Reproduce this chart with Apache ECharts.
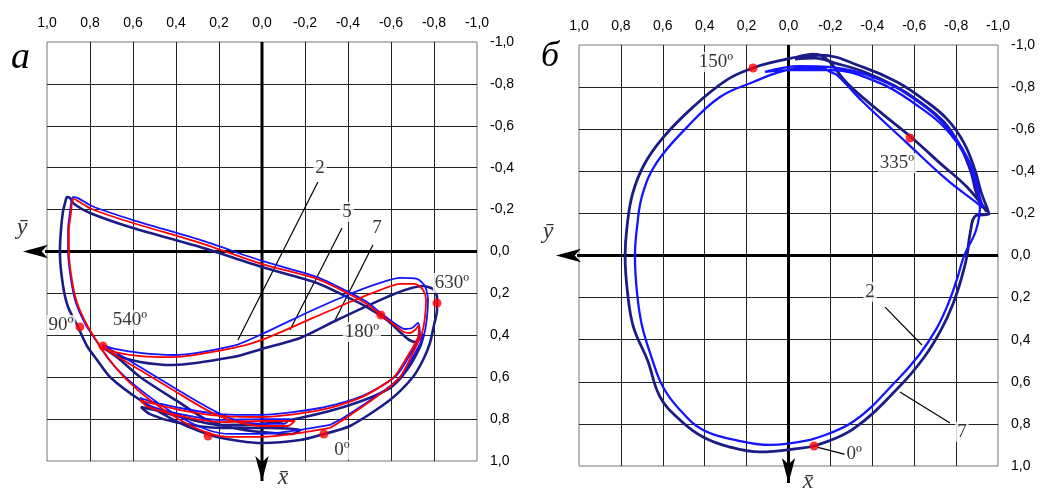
<!DOCTYPE html>
<html><head><meta charset="utf-8">
<script src="https://cdn.jsdelivr.net/npm/echarts@6/dist/echarts.min.js"></script>
<style>html,body{margin:0;padding:0;background:#fff}#c{width:1052px;height:494px}</style>
</head><body><div id="c"></div>
<script>
// ---------- DATA (relative eccentricity coordinates: [ȳ, x̄]) ----------
const axisMin = -1, axisMax = 1, axisStep = 0.2;

// Panel "а": curve 7 (navy)
const curveA7 = [[-0.288,0.871],[-0.177,0.900],[0,0.914],[0.209,0.885],[0.381,0.819],[0.567,0.709],[0.707,0.599],[0.767,0.518],[0.814,0.451],[0.856,0.360],[0.902,0.265],[0.926,0.160],[0.940,0.002],[0.935,-0.103],[0.926,-0.189],[0.916,-0.232],[0.907,-0.260],[0.893,-0.255],[0.874,-0.227],[0.800,-0.184],[0.600,-0.112],[0.288,-0.021],[0,0.074],[-0.256,0.150],[-0.395,0.217],[-0.488,0.265],[-0.581,0.327],[-0.642,0.384],[-0.679,0.418],[-0.712,0.432],[-0.735,0.418],[-0.753,0.394],[-0.735,0.456],[-0.674,0.566],[-0.595,0.652],[-0.409,0.733],[-0.177,0.795],[0,0.823],[0.195,0.828],[0.358,0.795],[0.498,0.757],[0.563,0.742],[0.521,0.776],[0.405,0.814],[0.195,0.842],[-0.037,0.842],[-0.177,0.852],[-0.140,0.871],[0,0.862],[0.135,0.842],[0.256,0.804],[0.381,0.723],[0.567,0.599],[0.670,0.508],[0.744,0.456],[0.684,0.494],[0.567,0.527],[0.414,0.542],[0.135,0.504],[0,0.465],[-0.177,0.413],[-0.349,0.327],[-0.549,0.232],[-0.665,0.184],[-0.749,0.165],[-0.795,0.179],[-0.814,0.217],[-0.814,0.279],[-0.800,0.351],[-0.781,0.437],[-0.749,0.518],[-0.702,0.599],[-0.595,0.709],[-0.409,0.833],[-0.288,0.871]];
// Panel "а": curve 5 (red)
const curveA5 = [[-0.316,0.842],[-0.177,0.866],[0,0.885],[0.149,0.885],[0.251,0.866],[0.381,0.804],[0.521,0.709],[0.637,0.604],[0.716,0.508],[0.763,0.437],[0.814,0.351],[0.860,0.246],[0.884,0.136],[0.898,0.002],[0.898,-0.103],[0.888,-0.189],[0.884,-0.232],[0.874,-0.251],[0.856,-0.241],[0.791,-0.203],[0.600,-0.136],[0.288,-0.041],[0,0.060],[-0.256,0.131],[-0.395,0.198],[-0.488,0.251],[-0.553,0.303],[-0.628,0.360],[-0.660,0.384],[-0.688,0.389],[-0.716,0.370],[-0.730,0.351],[-0.726,0.408],[-0.674,0.504],[-0.609,0.604],[-0.456,0.699],[-0.270,0.757],[0,0.790],[0.195,0.785],[0.381,0.757],[0.521,0.723],[0.567,0.709],[0.530,0.742],[0.381,0.785],[0.195,0.814],[-0.014,0.809],[-0.153,0.809],[-0.121,0.833],[0,0.833],[0.135,0.809],[0.256,0.757],[0.414,0.661],[0.567,0.566],[0.684,0.494],[0.740,0.456],[0.684,0.480],[0.567,0.499],[0.414,0.504],[0.135,0.461],[0,0.422],[-0.237,0.317],[-0.409,0.241],[-0.549,0.184],[-0.642,0.155],[-0.712,0.155],[-0.749,0.184],[-0.763,0.232],[-0.758,0.313],[-0.744,0.389],[-0.702,0.484],[-0.642,0.599],[-0.563,0.671],[-0.377,0.804],[-0.316,0.842]];
// Panel "а": curve 2 (blue)
const curveA2 = [[-0.316,0.828],[-0.177,0.852],[0,0.871],[0.149,0.871],[0.251,0.852],[0.381,0.790],[0.521,0.695],[0.642,0.594],[0.721,0.504],[0.767,0.432],[0.819,0.351],[0.865,0.246],[0.888,0.136],[0.902,0.002],[0.902,-0.103],[0.893,-0.189],[0.888,-0.232],[0.879,-0.260],[0.856,-0.255],[0.791,-0.217],[0.600,-0.150],[0.288,-0.055],[0,0.045],[-0.256,0.122],[-0.395,0.189],[-0.488,0.241],[-0.553,0.294],[-0.628,0.351],[-0.665,0.370],[-0.698,0.365],[-0.726,0.341],[-0.735,0.399],[-0.688,0.494],[-0.623,0.594],[-0.465,0.690],[-0.270,0.747],[0,0.780],[0.195,0.776],[0.381,0.747],[0.521,0.714],[0.567,0.699],[0.530,0.733],[0.381,0.776],[0.195,0.804],[-0.014,0.800],[-0.130,0.800],[-0.102,0.823],[0,0.823],[0.135,0.800],[0.256,0.742],[0.414,0.647],[0.567,0.551],[0.684,0.480],[0.744,0.446],[0.684,0.465],[0.567,0.484],[0.414,0.494],[0.135,0.451],[0,0.394],[-0.237,0.279],[-0.409,0.203],[-0.549,0.150],[-0.642,0.126],[-0.721,0.131],[-0.758,0.165],[-0.772,0.232],[-0.767,0.317],[-0.753,0.399],[-0.712,0.484],[-0.651,0.590],[-0.572,0.661],[-0.377,0.795],[-0.316,0.828]];

// Panel "б": curve 7 (navy)
const curveB7 = [[-0.122,0.905],[-0.069,0.914],[0.136,0.933],[0.279,0.910],[0.408,0.862],[0.518,0.781],[0.613,0.672],[0.672,0.500],[0.740,0.340],[0.768,0.178],[0.780,0.002],[0.771,-0.135],[0.745,-0.290],[0.690,-0.430],[0.599,-0.560],[0.456,-0.705],[0.294,-0.834],[0.169,-0.891],[0.074,-0.919],[-0.041,-0.943],[-0.117,-0.957],[-0.160,-0.948],[-0.198,-0.919],[-0.279,-0.819],[-0.437,-0.682],[-0.590,-0.558],[-0.723,-0.439],[-0.852,-0.325],[-0.947,-0.207],[-0.900,-0.287],[-0.871,-0.397],[-0.819,-0.520],[-0.742,-0.634],[-0.628,-0.729],[-0.508,-0.805],[-0.351,-0.876],[-0.222,-0.914],[-0.126,-0.938],[-0.031,-0.933],[-0.150,-0.952],[-0.356,-0.895],[-0.518,-0.824],[-0.642,-0.743],[-0.757,-0.648],[-0.838,-0.534],[-0.890,-0.406],[-0.919,-0.302],[-0.957,-0.197],[-0.895,-0.190],[-0.866,-0.100],[-0.852,0.002],[-0.825,0.110],[-0.785,0.230],[-0.730,0.350],[-0.650,0.480],[-0.532,0.620],[-0.308,0.825],[-0.122,0.905]];
// Panel "б": curve 2 (blue)
const curveB2 = [[-0.103,0.876],[0.088,0.900],[0.255,0.876],[0.408,0.829],[0.518,0.734],[0.599,0.625],[0.655,0.480],[0.700,0.330],[0.723,0.178],[0.733,0.002],[0.723,-0.135],[0.697,-0.290],[0.630,-0.440],[0.484,-0.610],[0.327,-0.753],[0.169,-0.824],[0.041,-0.872],[-0.069,-0.891],[-0.165,-0.891],[-0.198,-0.872],[-0.232,-0.857],[-0.356,-0.729],[-0.566,-0.534],[-0.757,-0.359],[-0.900,-0.249],[-0.928,-0.226],[-0.895,-0.335],[-0.847,-0.468],[-0.747,-0.606],[-0.618,-0.710],[-0.437,-0.819],[-0.198,-0.881],[-0.007,-0.881],[0.112,-0.872],[-0.055,-0.900],[-0.198,-0.895],[-0.437,-0.834],[-0.628,-0.724],[-0.757,-0.610],[-0.852,-0.468],[-0.900,-0.344],[-0.914,-0.240],[-0.895,-0.120],[-0.838,0.002],[-0.805,0.110],[-0.762,0.230],[-0.705,0.350],[-0.625,0.470],[-0.520,0.590],[-0.308,0.790],[-0.103,0.876]];

// Marked crank-angle points
const pointsA = [[-0.288,0.871],[0.847,0.360],[-0.553,0.303],[0.740,0.451],[-0.814,0.246],[0.251,0.881]];
const pointsB = [[-0.122,0.905],[0.169,-0.891],[-0.580,-0.558]];

// Annotation texts and their anchors
const labelsA = [['2',-0.270,-0.399],['5',-0.395,-0.189],['7',-0.535,-0.112],['630º',-0.884,0.150],['180º',-0.465,0.384],['90º',0.935,0.351],['540º',0.614,0.327],['0º',-0.372,0.947]];
const labelsB = [['150º',0.346,-0.919],['335º',-0.518,-0.439],['2',-0.389,0.173],['7',-0.828,0.838],['0º',-0.313,0.943]];
const leadersA = [[[-0.260,-0.332],[0.112,0.422]],[[-0.372,-0.112],[-0.130,0.375]],[[-0.516,-0.031],[-0.340,0.327]]];
const leadersB = [[[-0.461,0.245],[-0.637,0.425]],[[-0.771,0.796],[-0.532,0.648]],[[-0.136,0.910],[-0.270,0.945]]];
// Coordinate axes (with arrows) and their letters
const axesA = {vert:[[0,-1],[0,1.095]], horiz:[[-1,0],[1.112,0]], yLab:[1.116,-0.112], xLab:[-0.098,1.081]};
const axesB = {vert:[[0,-1],[0,1.081]], horiz:[[-1,0],[1.110,0]], yLab:[1.148,-0.112], xLab:[-0.093,1.076]};
const panelLetters = ['а','б'];

// ---------- CHART ----------
const fmt = v => Math.abs(v) < 1e-9 ? '0,0' : v.toFixed(1).replace('.', ',');
const NAVY = '#1c1c86', BLUE = '#1414ff', RED = '#ff0000';
const serif = 'Liberation Serif', sans = 'Liberation Sans';

function xAx(gi){ return {type:'value', gridIndex:gi, min:axisMin, max:axisMax, interval:axisStep, inverse:true, position:'top',
  axisLine:{show:false}, axisTick:{show:false},
  axisLabel:{formatter:fmt, margin:12, fontFamily:sans, fontSize:14, color:'#000'},
  splitLine:{show:true, showMinLine:false, showMaxLine:false, lineStyle:{color:'#222', width:1}}}; }
function yAx(gi){ return {type:'value', gridIndex:gi, min:axisMin, max:axisMax, interval:axisStep, inverse:true, position:'right',
  axisLine:{show:false}, axisTick:{show:false},
  axisLabel:{formatter:fmt, margin:13, fontFamily:sans, fontSize:14, color:'#000'},
  splitLine:{show:true, showMinLine:false, showMaxLine:false, lineStyle:{color:'#222', width:1}}}; }

function curve(gi, data, color, width, z, sm){ return {type:'line', xAxisIndex:gi, yAxisIndex:gi, data:data, showSymbol:false, symbol:'none',
  smooth:sm, lineStyle:{color:color, width:width}, z:z, silent:true, animation:false}; }
function arrow(gi, pts, rot){ return {type:'line', xAxisIndex:gi, yAxisIndex:gi, clip:false, silent:true, z:6, animation:false,
  lineStyle:{color:'#000', width:3}, itemStyle:{color:'#000'}, showSymbol:true, showAllSymbol:true,
  data:[{value:pts[0], symbol:'none'},{value:pts[1], symbol:'arrow', symbolSize:[10,25], symbolRotate:rot}]}; }
function leaders(gi, arr){ return arr.map(seg => ({type:'line', xAxisIndex:gi, yAxisIndex:gi, data:seg, showSymbol:false, symbol:'none',
  lineStyle:{color:'#000', width:1.2}, z:7, silent:true, animation:false})); }
function texts(gi, arr){ return {type:'scatter', xAxisIndex:gi, yAxisIndex:gi, clip:false, symbolSize:1, itemStyle:{color:'rgba(0,0,0,0)'}, z:20, silent:true, animation:false,
  label:{show:true, position:'inside', formatter:'{b}', fontFamily:serif, fontSize:19, color:'#000', backgroundColor:'#fff', padding:[1,2,0,2]},
  data: arr.map(a => ({name:a[0], value:[a[1], a[2]]}))}; }
function axisLetters(gi, ax){ return {type:'scatter', xAxisIndex:gi, yAxisIndex:gi, clip:false, symbolSize:1, itemStyle:{color:'rgba(0,0,0,0)'}, z:20, silent:true, animation:false,
  label:{show:true, position:'inside', formatter:'{b}', fontFamily:serif, fontStyle:'italic', fontSize:24, color:'#000'},
  data:[{name:'ȳ', value:ax.yLab},{name:'x̄', value:ax.xLab}]}; }
function dots(gi, arr){ return {type:'scatter', xAxisIndex:gi, yAxisIndex:gi, data:arr, symbolSize:9, itemStyle:{color:RED}, z:15, silent:true, animation:false}; }

const chart = echarts.init(document.getElementById('c'), null, {renderer:'canvas'});
chart.setOption({
  backgroundColor:'#fff',
  animation:false,
  title:[
    {text:panelLetters[0], left:6, top:34, textStyle:{fontFamily:serif, fontStyle:'italic', fontWeight:'normal', fontSize:38, color:'#000'}},
    {text:panelLetters[1], left:536, top:34, textStyle:{fontFamily:serif, fontStyle:'italic', fontWeight:'normal', fontSize:36, color:'#000'}}
  ],
  grid:[
    {left:47, top:42, width:430, height:419, show:true, borderColor:'#777', borderWidth:1, backgroundColor:'rgba(0,0,0,0)'},
    {left:579, top:45, width:419, height:421, show:true, borderColor:'#777', borderWidth:1, backgroundColor:'rgba(0,0,0,0)'}
  ],
  xAxis:[xAx(0), xAx(1)],
  yAxis:[yAx(0), yAx(1)],
  series:[
    arrow(0, axesA.vert, 180), arrow(0, axesA.horiz, 90),
    arrow(1, axesB.vert, 180), arrow(1, axesB.horiz, 90),
    curve(0, curveA7, NAVY, 2.6, 8, 0.25), curve(0, curveA2, BLUE, 1.8, 9, 0.25), curve(0, curveA5, RED, 1.8, 10, 0.25),
    curve(1, curveB7, NAVY, 2.8, 8, 0.4), curve(1, curveB2, BLUE, 2.3, 9, 0.4),
    ...leaders(0, leadersA), ...leaders(1, leadersB),
    dots(0, pointsA), dots(1, pointsB),
    texts(0, labelsA), texts(1, labelsB),
    axisLetters(0, axesA), axisLetters(1, axesB)
  ]
});
</script></body></html>
